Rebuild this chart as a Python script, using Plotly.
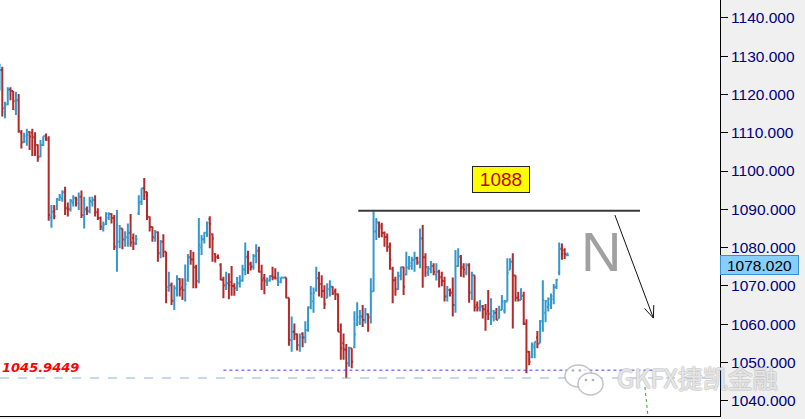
import plotly.graph_objects as go

# ---------------- data ----------------
bar_index = list(range(-1, 208))

opens = [1123.0,
 1126.4,1115.5,1117.5,1121.3,1120.9,1116.0,1118.5,1110.0,1107.5,1107.8,
 1110.2,1110.0,1108.8,1106.8,1103.8,1106.8,1109.2,1108.5,1087.8,1089.5,
 1090.0,1092.5,1092.8,1094.5,1090.3,1090.0,1091.8,1093.0,1091.5,1093.3,
 1088.5,1090.0,1089.5,1091.8,1092.4,1089.2,1087.7,1085.0,1086.2,1087.8,
 1088.8,1087.7,1080.2,1081.5,1085.0,1082.0,1082.7,1083.9,1082.5,1081.1,
 1089.0,1092.0,1095.5,1094.5,1088.0,1085.4,1082.5,1084.0,1078.5,1081.5,
 1078.9,1069.0,1070.2,1066.1,1069.4,1071.8,1069.6,1068.9,1071.5,1077.5,
 1076.9,1074.9,1071.3,1080.0,1082.2,1083.9,1087.5,1083.5,1078.3,1077.6,
 1075.5,1071.6,1070.2,1070.7,1071.0,1070.0,1069.4,1070.7,1071.4,1074.3,
 1077.6,1075.8,1075.0,1077.8,1079.2,1073.7,1072.0,1071.0,1071.4,1072.6,
 1072.2,1071.5,1071.0,1072.1,1072.2,1066.9,1055.9,1058.0,1057.4,1054.6,
 1057.5,1056.5,1058.5,1064.4,1066.0,1069.0,1072.0,1070.5,1068.7,1066.9,
 1069.1,1069.8,1068.6,1067.8,1058.0,1055.0,1053.4,1049.8,1053.7,1054.0,
 1060.0,1060.5,1062.0,1061.1,1062.6,1061.8,1068.6,1084.2,1086.5,1085.8,
 1083.8,1082.8,1080.2,1074.5,1071.5,1069.1,1072.6,1074.9,1073.0,1074.8,
 1075.2,1076.8,1077.2,1076.1,1082.4,1077.5,1073.5,1074.5,1075.2,1073.0,
 1073.7,1072.4,1071.3,1067.2,1068.9,1068.2,1065.0,1075.2,1077.6,1075.0,
 1073.5,1075.4,1068.3,1072.8,1065.0,1063.8,1064.6,1063.9,1063.5,1062.7,
 1062.0,1063.0,1061.5,1063.7,1063.5,1065.9,1074.2,1076.3,1072.7,1066.9,
 1066.3,1067.4,1060.1,1052.8,1051.5,1054.0,1056.5,1055.0,1060.8,1063.0,
 1064.5,1065.0,1066.5,1069.7,1073.5,1079.7,1079.3,1078.0]

highs = [1128.0,
 1127.2,1118.1,1121.9,1121.9,1120.9,1120.7,1120.1,1110.7,1110.0,1111.0,
 1110.4,1111.0,1110.1,1107.0,1108.1,1109.1,1109.8,1109.1,1091.1,1091.1,
 1092.9,1094.0,1095.0,1095.9,1091.8,1092.7,1093.7,1093.3,1094.4,1094.9,
 1093.3,1090.7,1093.3,1093.3,1093.7,1090.3,1088.1,1086.8,1089.2,1089.2,
 1089.0,1088.5,1089.8,1085.9,1085.0,1084.3,1086.3,1088.8,1083.7,1083.3,
 1093.7,1095.5,1098.2,1094.6,1088.1,1085.5,1084.6,1084.2,1082.0,1083.5,
 1078.9,1073.7,1070.9,1070.2,1072.8,1072.0,1072.0,1075.6,1078.3,1079.4,
 1078.9,1075.5,1087.7,1083.3,1084.0,1086.8,1088.2,1083.7,1078.5,1078.2,
 1075.9,1072.4,1073.7,1073.3,1075.2,1070.7,1072.3,1072.8,1075.5,1081.3,
 1079.2,1076.3,1078.3,1080.9,1080.2,1075.5,1073.1,1072.2,1072.8,1075.0,
 1074.6,1073.7,1072.2,1072.4,1072.2,1066.9,1062.0,1060.2,1057.6,1057.6,
 1057.9,1060.8,1064.6,1070.0,1069.6,1075.0,1073.7,1072.8,1070.2,1070.7,
 1071.5,1069.9,1069.3,1068.0,1060.2,1057.6,1054.8,1054.1,1053.7,1063.4,
 1065.7,1063.7,1065.0,1064.2,1062.8,1072.0,1089.4,1087.7,1086.8,1086.5,
 1084.2,1083.7,1081.3,1075.0,1072.4,1073.7,1075.0,1075.0,1078.9,1077.8,
 1077.6,1078.9,1077.6,1085.0,1085.9,1078.5,1075.2,1076.5,1075.9,1075.9,
 1074.2,1073.7,1072.4,1070.0,1069.3,1072.2,1079.4,1079.8,1078.1,1075.9,
 1075.9,1075.9,1073.7,1072.8,1065.9,1066.3,1065.0,1065.3,1068.9,1066.8,
 1063.7,1064.2,1064.8,1067.6,1066.3,1077.2,1077.2,1078.5,1072.8,1068.5,
 1069.4,1068.5,1061.3,1053.0,1055.2,1055.4,1058.2,1061.1,1071.5,1066.3,
 1067.0,1068.0,1070.5,1071.8,1081.3,1081.1,1079.8,1078.7]

lows = [1121.0,
 1114.2,1113.8,1117.2,1118.5,1115.9,1114.6,1110.0,1105.9,1107.3,1106.6,
 1105.5,1103.9,1103.9,1102.4,1103.6,1106.5,1107.9,1087.0,1085.2,1087.4,
 1089.8,1092.2,1092.0,1088.5,1088.1,1089.4,1090.7,1090.7,1089.8,1087.7,
 1085.0,1088.5,1089.0,1090.7,1088.1,1087.2,1084.6,1084.2,1085.9,1087.2,
 1086.3,1079.4,1073.7,1079.8,1079.6,1080.2,1080.2,1080.2,1079.4,1080.7,
 1088.5,1091.1,1092.4,1087.2,1084.2,1081.5,1081.5,1076.3,1077.2,1077.5,
 1065.5,1068.5,1065.0,1063.7,1067.2,1067.2,1066.3,1065.9,1071.1,1075.5,
 1069.4,1069.4,1070.7,1078.1,1081.1,1082.8,1079.8,1076.3,1076.1,1077.0,
 1071.5,1066.8,1068.9,1066.5,1067.4,1067.4,1068.7,1069.6,1071.1,1072.8,
 1073.1,1074.0,1074.2,1075.9,1073.5,1068.9,1067.8,1070.0,1071.1,1071.5,
 1071.7,1070.0,1070.7,1071.9,1066.8,1054.4,1052.8,1055.9,1053.1,1052.8,
 1054.0,1055.0,1058.0,1063.9,1063.0,1068.5,1067.2,1066.9,1064.0,1066.8,
 1067.2,1067.6,1066.3,1058.0,1050.7,1050.7,1045.9,1048.9,1048.5,1053.7,
 1059.5,1059.8,1059.3,1060.2,1058.0,1060.2,1068.5,1082.0,1082.6,1082.7,
 1080.2,1078.9,1074.2,1065.5,1067.4,1068.9,1071.5,1067.6,1072.8,1074.2,
 1074.2,1073.7,1075.5,1074.6,1069.5,1072.4,1072.6,1073.3,1072.8,1071.4,
 1069.6,1069.9,1065.9,1065.9,1067.2,1062.0,1063.0,1075.0,1072.4,1072.2,
 1072.8,1065.6,1066.3,1063.3,1063.3,1063.3,1061.5,1058.3,1061.1,1059.8,
 1060.7,1061.1,1061.5,1063.7,1062.8,1065.9,1074.2,1058.9,1065.9,1065.9,
 1066.3,1059.8,1047.2,1049.3,1051.1,1051.1,1053.7,1055.0,1058.0,1060.5,
 1063.3,1064.0,1065.2,1069.2,1072.8,1076.8,1077.0,1077.8]

closes = [1126.4,
 1116.4,1117.2,1121.3,1120.9,1118.3,1118.5,1110.4,1107.5,1109.1,1109.4,
 1109.0,1108.8,1106.8,1103.6,1106.8,1109.1,1108.1,1088.5,1089.2,1088.2,
 1092.7,1093.3,1094.4,1090.3,1090.0,1092.2,1092.9,1092.5,1093.3,1088.5,
 1090.0,1089.6,1092.2,1092.4,1089.2,1087.7,1085.5,1085.9,1088.8,1088.8,
 1087.7,1080.2,1081.5,1085.0,1082.2,1082.7,1083.9,1081.3,1081.1,1082.2,
 1091.8,1095.5,1094.5,1088.1,1085.4,1082.8,1084.0,1078.5,1081.5,1078.9,
 1069.7,1070.2,1066.1,1069.4,1071.8,1069.1,1068.9,1070.4,1077.5,1076.9,
 1074.9,1071.3,1080.7,1082.2,1083.9,1086.5,1086.2,1082.4,1077.5,1077.3,
 1071.6,1070.2,1070.7,1070.2,1070.0,1069.4,1070.7,1071.4,1074.3,1077.6,
 1075.5,1075.0,1077.8,1079.2,1073.7,1071.5,1071.4,1071.4,1072.6,1072.2,
 1072.0,1072.2,1072.2,1072.2,1066.9,1055.9,1058.0,1057.4,1054.6,1056.6,
 1056.5,1058.5,1064.4,1068.0,1068.3,1072.0,1070.5,1068.7,1065.2,1069.1,
 1069.8,1068.1,1067.8,1058.0,1053.7,1053.4,1049.8,1053.7,1050.2,1057.4,
 1061.8,1062.0,1061.1,1062.6,1061.8,1068.5,1084.2,1086.8,1085.2,1083.8,
 1082.8,1080.2,1076.8,1071.5,1069.1,1072.6,1074.9,1069.8,1074.8,1076.0,
 1076.8,1077.2,1076.1,1082.4,1077.5,1074.9,1074.5,1075.2,1073.7,1073.7,
 1072.2,1071.3,1067.2,1068.9,1068.2,1065.0,1075.2,1077.6,1074.6,1074.3,
 1075.4,1068.3,1072.8,1064.4,1064.3,1064.6,1063.9,1062.8,1062.7,1063.5,
 1063.0,1061.1,1063.7,1065.9,1065.9,1073.3,1076.3,1072.7,1066.9,1066.3,
 1067.4,1060.1,1052.8,1050.2,1054.6,1055.4,1054.8,1060.8,1066.3,1066.0,
 1066.6,1067.3,1069.7,1071.6,1079.7,1078.3,1078.3,1078.02]

last_price = 1078.02
support_price = 1045.9449
support_label = "1045.9449"
resistance_label = "1088"
pattern_label = "N"
watermark_text = "GKFX捷凯金融"

# annotation anchors (bar index / price)
resistance_y = 1089.6
resistance_x = (130.4, 233.6)
support_line_y = 1048.0
support_line_x = (81.0, 241.5)
arrow_start = (224.4, 1088.5)
arrow_end = (238.5, 1061.6)
green_x = (235.4, 236.5)

# ---------------- figure ----------------
X_RANGE = [-0.84, 262.9]
Y_RANGE = [1036.03, 1144.65]
PLOT_W, PLOT_H = 720, 416
px_per_bar = PLOT_W / (X_RANGE[1] - X_RANGE[0])
px_per_unit = PLOT_H / (Y_RANGE[1] - Y_RANGE[0])


def px(xp):
    return xp / PLOT_W


def py(yp):
    return 1 - yp / PLOT_H


fig = go.Figure()
fig.add_trace(go.Ohlc(
    x=bar_index, open=opens, high=highs, low=lows, close=closes,
    increasing=dict(line=dict(color="#3399cc", width=2)),
    decreasing=dict(line=dict(color="#b22a2a", width=2)),
    tickwidth=0.5, hoverinfo="skip", showlegend=False,
))

shapes = []
shapes.append(dict(type="line", xref="x", yref="y",
                   x0=resistance_x[0], x1=resistance_x[1], y0=resistance_y, y1=resistance_y,
                   line=dict(color="#3a3a3a", width=2)))
shapes.append(dict(type="line", xref="x", yref="y",
                   x0=support_line_x[0], x1=support_line_x[1], y0=support_line_y, y1=support_line_y,
                   line=dict(color="#3c3cff", width=1, dash="dot")))
shapes.append(dict(type="line", xref="paper", yref="y", x0=0, x1=1,
                   y0=support_price, y1=support_price,
                   line=dict(color="#8fb3dd", width=1, dash="dash")))
shapes.append(dict(type="line", xref="x", yref="y", x0=green_x[0], x1=green_x[1],
                   y0=1043.6, y1=Y_RANGE[0],
                   line=dict(color="#3a9a3a", width=1, dash="dot")))
shapes.append(dict(type="line", xref="x", yref="y",
                   x0=arrow_start[0], y0=arrow_start[1], x1=arrow_end[0], y1=arrow_end[1],
                   line=dict(color="#111111", width=1)))
for dxp, dyp in [(0.4, -13.0), (-8.8, -9.6)]:
    shapes.append(dict(type="line", xref="x", yref="y",
                       x0=arrow_end[0], y0=arrow_end[1],
                       x1=arrow_end[0] + dxp / px_per_bar, y1=arrow_end[1] - dyp / px_per_unit,
                       line=dict(color="#111111", width=1)))
# watermark icon (two speech bubbles)
wm_line = dict(color="rgba(185,185,185,0.85)", width=1.5)
shapes.append(dict(type="circle", xref="paper", yref="paper",
                   x0=px(565), x1=px(592), y0=py(387), y1=py(365),
                   line=wm_line, fillcolor="rgba(255,255,255,0.8)"))
shapes.append(dict(type="circle", xref="paper", yref="paper",
                   x0=px(578), x1=px(603), y0=py(395), y1=py(373),
                   line=wm_line, fillcolor="rgba(255,255,255,0.9)"))
for cx, cy in [(573, 370.5), (580, 370.5), (586, 380), (593, 380)]:
    shapes.append(dict(type="circle", xref="paper", yref="paper",
                       x0=px(cx - 1.3), x1=px(cx + 1.3), y0=py(cy + 1.3), y1=py(cy - 1.3),
                       line=dict(width=0), fillcolor="rgba(170,170,170,0.9)"))

annotations = []
annotations.append(dict(xref="x", yref="y", x=182.7, y=1097.8, text=resistance_label,
                        showarrow=False, font=dict(family="Liberation Sans", size=19, color="#c00000"),
                        bgcolor="#ffff00", bordercolor="#222222", borderwidth=1, borderpad=2,
                        width=52, height=21))
annotations.append(dict(xref="x", yref="y", x=219.2, y=1078.9, text=pattern_label,
                        showarrow=False, font=dict(family="Liberation Sans", size=56, color="#a0a0a0")))
annotations.append(dict(xref="paper", yref="y", x=0, y=1048.6, xanchor="left", yanchor="middle",
                        text="<b><i>%s</i></b>" % support_label, showarrow=False,
                        font=dict(family="DejaVu Sans", size=13, color="#ff0000")))
annotations.append(dict(xref="paper", yref="y", x=1.0, y=last_price, xanchor="left", yanchor="top",
                        text="%.3f" % last_price, showarrow=False,
                        font=dict(family="Liberation Sans", size=15.5, color="#000000"),
                        bgcolor="#87cefa", bordercolor="#3a8fd0", borderwidth=1, borderpad=1,
                        width=75, height=16))
annotations.append(dict(xref="paper", yref="paper", x=px(697), y=py(377), xanchor="center",
                        yanchor="middle", text=watermark_text, showarrow=False,
                        font=dict(family="Noto Sans CJK SC", size=25, color="rgba(255,255,255,0.6)",
                                  shadow="-1px 0 #bdbdbd, 1px 0 #bdbdbd, 0 -1px #bdbdbd, 0 1px #bdbdbd")))

fig.update_layout(
    width=805, height=419,
    margin=dict(l=0, r=85, t=0, b=3),
    paper_bgcolor="#f0f0f0", plot_bgcolor="#ffffff",
    shapes=shapes, annotations=annotations,
    xaxis=dict(range=X_RANGE, showticklabels=False, showgrid=False, zeroline=False,
               showline=True, linecolor="#000000", linewidth=1, ticks="",
               rangeslider=dict(visible=False), fixedrange=True),
    yaxis=dict(range=Y_RANGE, side="right", tick0=1040, dtick=10, tickformat=".3f",
               ticks="outside", ticklen=7, tickcolor="#000000", showline=True,
               linecolor="#000000", linewidth=1, showgrid=False, zeroline=False,
               tickfont=dict(family="Liberation Sans", size=15.5, color="#000080"),
               fixedrange=True),
)

fig.write_html("out.html", config={"displayModeBar": False},
               post_script="document.body.style.margin='0';document.body.style.overflow='hidden';")
